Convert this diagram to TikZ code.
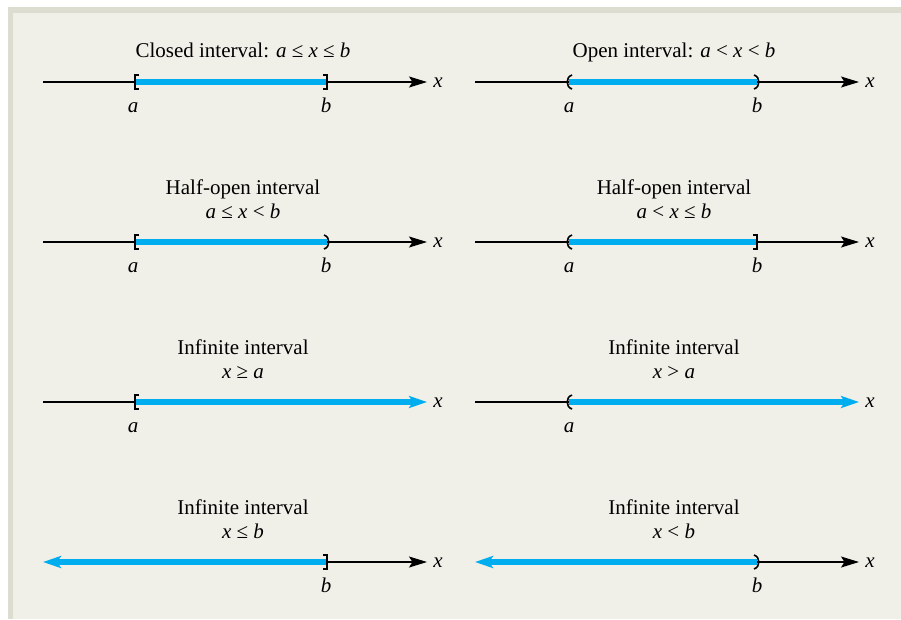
\documentclass[tikz,border=0pt]{standalone}
\usepackage{fontspec}
\setmainfont{Liberation Serif}
\usetikzlibrary{arrows.meta,calc}
\definecolor{bgc}{HTML}{F1F0E8}
\definecolor{bandc}{HTML}{DDDCD0}
\definecolor{ivblue}{HTML}{00AEEF}
\begin{document}
\begin{tikzpicture}[x=1pt,y=-1pt,
  axis/.style={line width=1.3pt,black},
  axisarrow/.style={axis,-{Stealth[length=18pt,width=11pt,inset=3.5pt]}},
  band/.style={line width=5.5pt,ivblue},
  bandarrowR/.style={band,-{Stealth[length=18pt,width=12pt,inset=4pt]}},
  bandarrowL/.style={band,{Stealth[length=18pt,width=12pt,inset=4pt]}-},
  brk/.style={line width=1.6pt,black},
  lab/.style={font=\fontsize{21}{25}\selectfont\itshape,anchor=base,inner sep=0pt},
  ttl/.style={font=\fontsize{21}{25}\selectfont,anchor=base,inner sep=0pt}]
\useasboundingbox (0,0) rectangle (901,619);
\fill[white] (0,0) rectangle (901,619);
\fill[bandc] (8,7) rectangle (901,619);
\fill[bgc] (13,13) rectangle (901,619);

% ---------- coordinates ----------
\foreach \r/\y in {1/82,2/242,3/402,4/562}{
  \coordinate (sL\r) at (43,\y);
  \coordinate (eL\r) at (427,\y);
  \coordinate (aL\r) at (135,\y);
  \coordinate (bL\r) at (327,\y);
  \coordinate (sR\r) at (475,\y);
  \coordinate (eR\r) at (859,\y);
  \coordinate (aR\r) at (569,\y);
  \coordinate (bR\r) at (757,\y);
}

% ---------- Row 1 ----------
\node[ttl] (t1L) at (243,57) {Closed interval: \textit{a} ≤ \textit{x} ≤ \textit{b}};
\draw[axisarrow] (sL1) -- (eL1);
\draw[band] (aL1) -- (bL1);
\draw[brk] ($(aL1)+(4,-7)$) -- ($(aL1)+(0,-7)$) -- ($(aL1)+(0,7)$) -- ($(aL1)+(4,7)$);
\draw[brk] ($(bL1)+(-4,-7)$) -- ($(bL1)+(0,-7)$) -- ($(bL1)+(0,7)$) -- ($(bL1)+(-4,7)$);
\node[lab] (xL1) at (438,87) {x};
\node[lab] (laL1) at (133,112) {a};
\node[lab] (lbL1) at (326,112) {b};

\node[ttl] (t1R) at (674,57) {Open interval: \textit{a} < \textit{x} < \textit{b}};
\draw[axisarrow] (sR1) -- (eR1);
\draw[band] (aR1) -- (bR1);
\draw[brk] ($(aR1)+(3,-7)$) .. controls ($(aR1)+(-3.5,-5)$) and ($(aR1)+(-3.5,5)$) .. ($(aR1)+(3,7)$);
\draw[brk] ($(bR1)+(-3,-7)$) .. controls ($(bR1)+(3.5,-5)$) and ($(bR1)+(3.5,5)$) .. ($(bR1)+(-3,7)$);
\node[lab] (xR1) at (870,87) {x};
\node[lab] (laR1) at (569,112) {a};
\node[lab] (lbR1) at (757,112) {b};

% ---------- Row 2 ----------
\node[ttl] (t2La) at (243,194) {Half-open interval};
\node[ttl] (t2Lb) at (243,218) {\textit{a} ≤ \textit{x} < \textit{b}};
\draw[axisarrow] (sL2) -- (eL2);
\draw[band] (aL2) -- (bL2);
\draw[brk] ($(aL2)+(4,-7)$) -- ($(aL2)+(0,-7)$) -- ($(aL2)+(0,7)$) -- ($(aL2)+(4,7)$);
\draw[brk] ($(bL2)+(-3,-7)$) .. controls ($(bL2)+(3.5,-5)$) and ($(bL2)+(3.5,5)$) .. ($(bL2)+(-3,7)$);
\node[lab] (xL2) at (438,247) {x};
\node[lab] (laL2) at (133,272) {a};
\node[lab] (lbL2) at (326,272) {b};

\node[ttl] (t2Ra) at (674,194) {Half-open interval};
\node[ttl] (t2Rb) at (674,218) {\textit{a} < \textit{x} ≤ \textit{b}};
\draw[axisarrow] (sR2) -- (eR2);
\draw[band] (aR2) -- (bR2);
\draw[brk] ($(aR2)+(3,-7)$) .. controls ($(aR2)+(-3.5,-5)$) and ($(aR2)+(-3.5,5)$) .. ($(aR2)+(3,7)$);
\draw[brk] ($(bR2)+(-4,-7)$) -- ($(bR2)+(0,-7)$) -- ($(bR2)+(0,7)$) -- ($(bR2)+(-4,7)$);
\node[lab] (xR2) at (870,247) {x};
\node[lab] (laR2) at (569,272) {a};
\node[lab] (lbR2) at (757,272) {b};

% ---------- Row 3 ----------
\node[ttl] (t3La) at (243,354) {Infinite interval};
\node[ttl] (t3Lb) at (243,378) {\textit{x} ≥ \textit{a}};
\draw[axis] (sL3) -- (aL3);
\draw[bandarrowR] (aL3) -- (eL3);
\draw[brk] ($(aL3)+(4,-7)$) -- ($(aL3)+(0,-7)$) -- ($(aL3)+(0,7)$) -- ($(aL3)+(4,7)$);
\node[lab] (xL3) at (438,407) {x};
\node[lab] (laL3) at (133,432) {a};

\node[ttl] (t3Ra) at (674,354) {Infinite interval};
\node[ttl] (t3Rb) at (674,378) {\textit{x} > \textit{a}};
\draw[axis] (sR3) -- (aR3);
\draw[bandarrowR] (aR3) -- (eR3);
\draw[brk] ($(aR3)+(3,-7)$) .. controls ($(aR3)+(-3.5,-5)$) and ($(aR3)+(-3.5,5)$) .. ($(aR3)+(3,7)$);
\node[lab] (xR3) at (870,407) {x};
\node[lab] (laR3) at (569,432) {a};

% ---------- Row 4 ----------
\node[ttl] (t4La) at (243,514) {Infinite interval};
\node[ttl] (t4Lb) at (243,538) {\textit{x} ≤ \textit{b}};
\draw[axisarrow] (bL4) -- (eL4);
\draw[bandarrowL] (sL4) -- (bL4);
\draw[brk] ($(bL4)+(-4,-7)$) -- ($(bL4)+(0,-7)$) -- ($(bL4)+(0,7)$) -- ($(bL4)+(-4,7)$);
\node[lab] (xL4) at (438,567) {x};
\node[lab] (lbL4) at (326,592) {b};

\node[ttl] (t4Ra) at (674,514) {Infinite interval};
\node[ttl] (t4Rb) at (674,538) {\textit{x} < \textit{b}};
\draw[axisarrow] (bR4) -- (eR4);
\draw[bandarrowL] (sR4) -- (bR4);
\draw[brk] ($(bR4)+(-3,-7)$) .. controls ($(bR4)+(3.5,-5)$) and ($(bR4)+(3.5,5)$) .. ($(bR4)+(-3,7)$);
\node[lab] (xR4) at (870,567) {x};
\node[lab] (lbR4) at (757,592) {b};
\end{tikzpicture}
\end{document}
